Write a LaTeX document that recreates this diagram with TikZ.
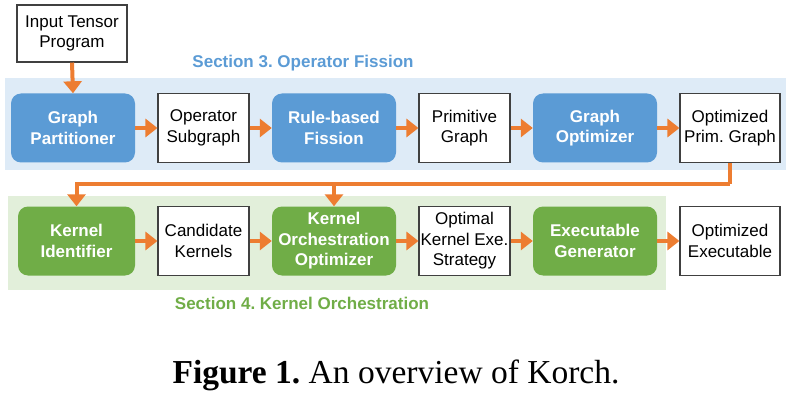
\documentclass[tikz,border=0pt]{standalone}
\usepackage{fontspec}
\setmainfont{Liberation Sans}
\newfontfamily\capfont{Liberation Serif}
\usetikzlibrary{arrows.meta}
\definecolor{arrowor}{HTML}{ED7D31}
\definecolor{bluefill}{HTML}{5B9BD5}
\definecolor{greenfill}{HTML}{70AD47}
\definecolor{bluebg}{HTML}{DEEBF7}
\definecolor{greenbg}{HTML}{E2EFDA}
\definecolor{boxline}{HTML}{404040}
\frenchspacing
\tikzset{
  basebox/.style={minimum height=69pt, align=center, inner sep=0pt,
    font=\fontsize{17}{20.5}\selectfont},
  whitebox/.style={basebox, draw=boxline, line width=1.1pt, fill=white, minimum width=91pt},
  bluebox/.style={basebox, fill=bluefill, text=white, rounded corners=10pt,
    minimum width=124pt, font=\fontsize{17}{20.5}\selectfont\bfseries},
  greenbox/.style={basebox, fill=greenfill, text=white, rounded corners=10pt,
    minimum width=124pt, font=\fontsize{17}{20.5}\selectfont\bfseries},
  flow/.style={draw=arrowor, line width=4pt, -{Triangle[width=18pt,length=12pt]}},
  flowline/.style={draw=arrowor, line width=4pt},
  seclabel/.style={font=\fontsize{17}{20}\selectfont\bfseries}
}
\begin{document}
\begin{tikzpicture}[x=1pt,y=-1pt]
\useasboundingbox (0,0) rectangle (790,401);
\fill[bluebg] (5,78) rectangle (786,170);
\fill[greenbg] (8,196) rectangle (666,290);

\node[whitebox, minimum width=110pt, minimum height=57pt] (inp) at (72,33.5) {Input Tensor\\Program};
\node[seclabel, text=bluefill] (sec3) at (303,63) {Section 3. Operator Fission};

\node[bluebox] (gp) at (73,128) {Graph\\Partitioner};
\node[whitebox] (os) at (203.5,128) {Operator\\Subgraph};
\node[bluebox] (rf) at (334,128) {Rule-based\\Fission};
\node[whitebox] (pg) at (464.5,128) {Primitive\\Graph};
\node[bluebox] (go) at (595,128) {Graph\\Optimizer};
\node[whitebox, minimum width=100pt] (opg) at (730,128) {Optimized\\Prim. Graph};

\node[greenbox, minimum width=117pt] (ki) at (76.5,241) {Kernel\\Identifier};
\node[whitebox] (ck) at (203.5,241) {Candidate\\Kernels};
\node[greenbox] (koo) at (334,241) {Kernel\\Orchestration\\Optimizer};
\node[whitebox] (oks) at (464.5,241) {Optimal\\Kernel Exe.\\Strategy};
\node[greenbox] (eg) at (595,241) {Executable\\Generator};
\node[whitebox, minimum width=100pt] (oe) at (730,241) {Optimized\\Executable};

\node[seclabel, text=greenfill] (sec4) at (302,303) {Section 4. Kernel Orchestration};

\node[font=\capfont\fontsize{33.5}{38}\selectfont] (cap) at (396,375) {\textbf{Figure 1.} An overview of Korch.};

\draw[flow] (inp.south) -- (gp.north);
\draw[flow] (gp) -- (os);
\draw[flow] (os) -- (rf);
\draw[flow] (rf) -- (pg);
\draw[flow] (pg) -- (go);
\draw[flow] (go) -- (opg);

\coordinate (turn) at (opg.south |- 0,184);
\coordinate (branch) at (koo.north |- 0,184);
\draw[flowline] (opg.south) -- (turn);
\draw[flow] (turn) -- (ki.north |- turn) -- (ki.north);
\draw[flow] (branch) -- (koo.north);

\draw[flow] (ki) -- (ck);
\draw[flow] (ck) -- (koo);
\draw[flow] (koo) -- (oks);
\draw[flow] (oks) -- (eg);
\draw[flow] (eg) -- (oe);
\end{tikzpicture}
\end{document}
